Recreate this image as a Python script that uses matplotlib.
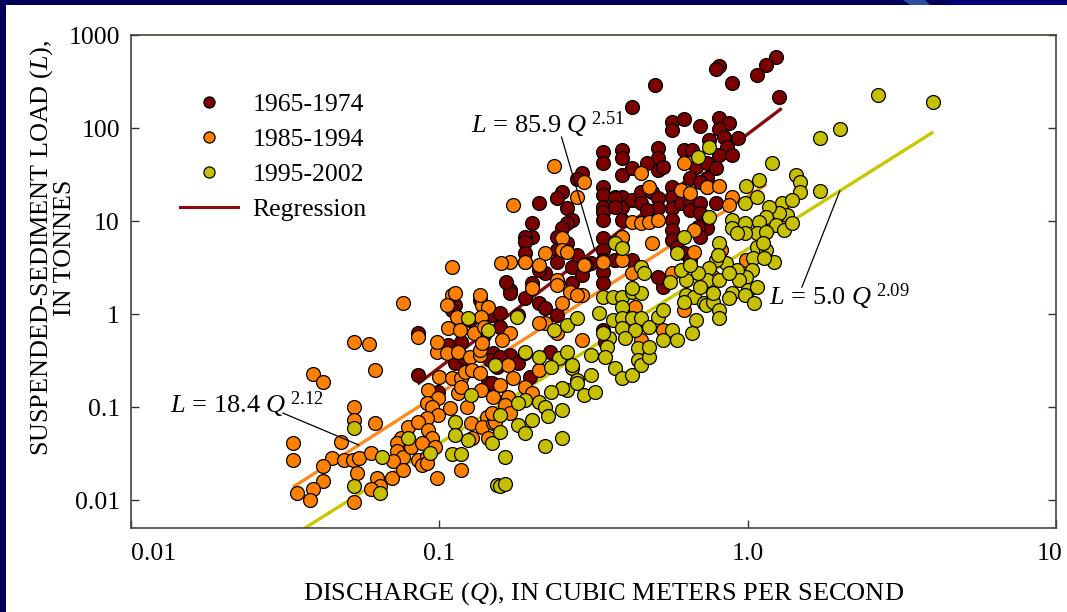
import matplotlib.pyplot as plt
import matplotlib.transforms as mtransforms
import numpy as np
from matplotlib.lines import Line2D
from matplotlib.patches import Polygon, Rectangle
from matplotlib.ticker import FixedLocator, NullLocator

plt.rcParams['font.family'] = ['Liberation Serif', 'DejaVu Serif']
plt.rcParams['mathtext.fontset'] = 'custom'
plt.rcParams['mathtext.rm'] = 'Liberation Serif'
plt.rcParams['mathtext.it'] = 'Liberation Serif:italic'

# discharge Q (m3/s) and suspended-sediment load L (tonnes), by period
q_6574 = [1.24, 1.15, 1.07, 0.89, 0.81, 0.79, 1.26, 0.50, 0.42, 0.57, 0.57, 0.62, 0.70, 0.81,
          0.87, 0.81, 0.84, 0.93, 0.75, 0.86, 0.81, 0.89, 0.39, 0.39, 0.39, 0.42, 0.51, 0.51,
          0.51, 0.53, 0.47, 0.62, 0.66, 0.68, 0.65, 0.74, 0.79, 0.74, 0.70, 0.74, 0.37, 0.39,
          0.39, 0.42, 0.45, 0.45, 0.49, 0.51, 0.51, 0.47, 0.57, 0.57, 0.57, 0.57, 0.57, 0.61,
          0.65, 0.65, 0.70, 0.70, 0.74, 0.74, 0.69, 0.79, 0.39, 0.39, 0.39, 0.37, 0.42, 0.57,
          0.59, 0.62, 0.70, 0.65, 0.53, 0.51, 0.34, 0.34, 0.29, 0.28, 0.34, 0.34, 0.34, 0.34,
          0.34, 0.37, 0.37, 0.25, 0.24, 0.21, 0.26, 0.27, 0.26, 0.25, 0.20, 0.20, 0.19, 0.19,
          0.24, 0.26, 0.34, 0.34, 0.34, 0.34, 0.34, 0.37, 0.31, 0.28, 0.27, 0.24, 0.24, 0.22,
          0.21, 0.19, 0.19, 0.17, 0.20, 0.19, 0.27, 0.29, 0.30, 0.112, 0.11, 0.118, 0.117,
          0.112, 0.121, 0.085, 0.085, 0.099, 0.148, 0.149, 0.146, 0.154, 0.144, 0.17, 0.21,
          0.22, 0.24, 0.157, 0.18, 0.157, 0.17, 0.157, 0.18, 0.197, 0.148, 0.34, 0.344, 0.228,
          0.126, 0.135, 0.107, 0.14, 0.165]
l_6574 = [580, 476, 372, 305, 464, 431, 215, 290, 168, 116, 95, 125, 105, 128,
          113, 97, 80, 78, 74, 62, 51, 51, 58, 48, 31, 37, 61, 48,
          35, 38, 42, 58, 58, 38, 29, 42, 37, 29, 26, 23, 18, 18,
          14, 16.8, 20.5, 15.6, 20.5, 17.7, 13.8, 13.1, 23, 18, 13.8, 10.2, 8.0, 15.6,
          16, 13.1, 15.6, 12.2, 10.2, 8.4, 8.6, 15.6, 10.2, 6.7, 5.25, 3.8, 3.8, 6.25,
          5.25, 4.53, 6.7, 3.8, 1.95, 2.5, 55, 42, 33, 28, 23, 19, 14, 12.5,
          10.2, 17.7, 14, 20.5, 17.7, 15.6, 13.8, 10.2, 9.5, 8.4, 9.5, 6.7, 6.7, 5.95,
          6.7, 5.8, 6.6, 4.88, 3.8, 2.83, 2.15, 3.8, 3.54, 4.31, 3.2, 4.88, 3.62, 2.76,
          2.97, 4.53, 3.62, 1.81, 2.15, 1.49, 2.15, 2.63, 3.36, 1.25, 1.10, 0.50, 0.36,
          0.30, 0.34, 0.62, 0.22, 0.145, 0.975, 0.38, 0.32, 0.27, 0.18, 1.68, 1.31,
          1.16, 0.975, 1.02, 0.975, 0.72, 0.36, 0.345, 0.30, 0.21, 0.18, 0.67, 0.50, 0.39,
          0.86, 1.41, 0.46, 0.59, 2.2]

q_8594 = [0.076, 0.053, 0.059, 0.062, 0.039, 0.042, 0.085, 0.053, 0.053, 0.062, 0.0335, 0.0335,
          0.048, 0.045, 0.042, 0.049, 0.0525, 0.055, 0.060, 0.075, 0.073, 0.079, 0.073, 0.076,
          0.071, 0.081, 0.085, 0.091, 0.088, 0.054, 0.063, 0.064, 0.060, 0.070, 0.076, 0.091,
          0.053, 0.042, 0.039, 0.038, 0.0345, 0.098, 0.118, 0.11, 0.106, 0.114, 0.107, 0.117,
          0.13, 0.098, 0.106, 0.115, 0.126, 0.135, 0.138, 0.144, 0.137, 0.14, 0.135, 0.138,
          0.10, 0.11, 0.092, 0.099, 0.091, 0.095, 0.099, 0.108, 0.091, 0.085, 0.092, 0.095,
          0.088, 0.097, 0.118, 0.121, 0.128, 0.135, 0.115, 0.123, 0.127, 0.143, 0.138, 0.149,
          0.144, 0.128, 0.118, 0.137, 0.149, 0.098,
          0.235, 0.173, 0.28, 0.295, 0.25, 0.22, 0.17, 0.159, 0.19, 0.21, 0.25, 0.26,
          0.295, 0.34, 0.11, 0.112, 0.135, 0.20, 0.24, 0.24, 0.265, 0.29,
          0.45, 0.48, 0.62, 0.61, 0.65, 0.74, 0.81, 0.89, 0.87, 0.42, 0.45, 0.48,
          0.51, 0.39, 0.49, 0.67, 0.67, 0.39, 0.42, 0.57, 0.77, 0.82, 0.99,
          0.25, 0.28, 0.22, 0.21, 0.24, 0.17, 0.16, 0.19, 0.167, 0.21, 0.173, 0.157,
          0.19, 0.20, 0.167, 0.163, 0.17, 0.151, 0.148, 0.29, 0.43, 0.42, 0.45, 0.53, 0.62]
l_8594 = [1.31, 0.50, 0.48, 0.25, 0.226, 0.186, 0.57, 0.10, 0.073, 0.067, 0.041, 0.027,
          0.042, 0.028, 0.023, 0.027, 0.027, 0.028, 0.032, 0.047, 0.041, 0.061, 0.034, 0.029,
          0.026, 0.037, 0.027, 0.029, 0.024, 0.0195, 0.0173, 0.014, 0.013, 0.0173, 0.021, 0.025,
          0.0095, 0.016, 0.013, 0.010, 0.012, 0.0173, 0.021, 1.6, 1.25, 0.93, 0.71, 0.67,
          0.62, 0.39, 0.38, 0.39, 0.345, 0.36, 1.25, 1.19, 0.93, 0.72, 0.41, 0.49,
          0.21, 0.205, 0.152, 0.125, 0.11, 0.10, 0.082, 0.098, 0.076, 0.069, 0.056, 0.047,
          0.041, 0.037, 0.205, 0.24, 0.25, 0.23, 0.141, 0.10, 0.067, 0.078, 0.061, 0.067,
          0.047, 0.046, 0.164, 0.152, 0.128, 0.50,
          39, 14.9, 18, 26, 6.6, 4.5, 3.6, 3.5, 3.6, 3.4, 4.9, 4.6,
          3.4, 3.6, 3.2, 1.68, 1.6, 1.9, 2.3, 2.05, 1.72, 1.6,
          33, 23, 42, 21.5, 20, 23, 24, 18, 14.9, 9.8, 9.5, 9.8,
          10.3, 6.7, 5.8, 8.0, 4.6, 3.8, 2.76, 2.76, 2.5, 4.9, 3.8,
          1.31, 1.6, 0.80, 0.80, 0.62, 0.62, 0.525, 0.38, 0.28, 0.25, 0.205, 0.172,
          0.164, 0.141, 0.128, 0.105, 0.086, 0.069, 0.086, 0.525, 1.19, 0.91, 0.525, 0.67, 1.10]

q_9502 = [0.124, 0.144, 0.151, 0.127, 0.112, 0.112, 0.124, 0.148, 0.079, 0.093, 0.11, 0.118,
          0.065, 0.053, 0.053, 0.064, 0.154,
          0.178, 0.236, 0.26, 0.28, 0.19, 0.21, 0.245, 0.23, 0.26, 0.27, 0.27, 0.28,
          0.26, 0.25, 0.23, 0.28, 0.31, 0.295, 0.32, 0.19, 0.18, 0.21, 0.22, 0.225,
          0.25, 0.20, 0.18, 0.19, 0.25, 0.22, 0.163, 0.157, 0.157, 0.157, 0.163,
          0.34, 0.365, 0.39, 0.42, 0.45, 0.39, 0.365, 0.39, 0.42, 0.45, 0.39, 0.43,
          0.40, 0.355, 0.34, 0.35, 0.33, 0.31, 0.345, 0.37, 0.39, 0.42, 0.44, 0.44,
          0.45, 0.48, 0.48, 0.48, 0.51, 0.53, 0.57, 0.53, 0.59, 0.63, 0.67, 0.72,
          0.62, 0.68, 0.66,
          1.71, 1.20, 1.43, 1.48, 1.48, 1.72, 0.99, 1.09, 0.98, 1.07, 1.29, 1.39,
          1.34, 1.26, 1.17, 1.15, 1.24, 1.31, 1.39, 0.89, 0.89, 0.98, 1.09, 1.07,
          0.98, 0.92, 1.15, 1.07, 1.15, 1.22, 1.12, 1.04, 1.13, 1.03, 0.99, 0.92,
          0.94, 0.85, 0.79, 0.81, 0.80, 0.75, 0.74, 0.69, 0.70, 0.63, 0.61, 0.65,
          0.62, 0.59, 0.75, 0.69, 0.75, 0.89, 1.0, 1.07, 0.81, 0.87, 0.45, 0.42,
          0.46, 0.56, 0.37, 0.39,
          2.64, 3.98, 2.0,
          0.73, 0.77, 0.81, 0.81, 0.87, 0.98, 1.05, 0.77]
l_9502 = [0.91, 0.67, 0.28, 0.135, 0.069, 0.05, 0.044, 0.041, 0.047, 0.032, 0.031, 0.031,
          0.029, 0.059, 0.014, 0.012, 0.0145,
          0.93, 0.67, 0.76, 0.91, 0.39, 0.345, 0.34, 0.27, 0.39, 0.26, 0.28, 0.195,
          0.152, 0.16, 0.145, 0.18, 0.22, 0.135, 0.145, 0.119, 0.11, 0.113, 0.10, 0.08,
          0.093, 0.073, 0.064, 0.052, 0.046, 0.038, 0.029, 0.054, 0.082, 0.0142, 0.0149,
          1.52, 1.52, 1.52, 1.72, 1.68, 1.19, 0.86, 0.91, 0.91, 0.91, 0.71, 0.67,
          0.55, 0.55, 0.62, 0.44, 1.02, 0.36, 0.345, 0.26, 0.205, 0.22, 0.43, 0.32,
          0.28, 0.345, 0.44, 0.72, 0.93, 1.10, 0.67, 0.525, 0.525, 1.6, 1.52, 1.31,
          1.35, 0.86, 0.62,
          78, 42, 31, 26, 20.5, 21, 24, 27.6, 15.6, 18, 15.6, 16.8,
          11.6, 12.2, 14, 11, 9.1, 8.0, 9.5, 10.3, 8.4, 9.5, 9.8, 7.4,
          7.4, 7.4, 7.6, 5.25, 4.9, 3.6, 5.8, 4.0, 4.0, 2.97, 2.5, 2.97,
          2.3, 3.5, 3.8, 5.8, 4.3, 3.1, 2.3, 2.76, 1.95, 2.3, 2.97, 3.4,
          6.7, 4.5, 11, 48.8, 62.5, 1.68, 1.81, 1.95, 2.3, 2.76, 3.2, 1.9,
          2.76, 2.2, 5.8, 5.1,
          226, 190, 97.5,
          1.25, 1.35, 1.10, 0.91, 1.49, 1.6, 1.31, 1.68]

periods = ['1965-1974', '1985-1994', '1995-2002']
dot_colors = ['#7b0000', '#ff8000', '#c6c000']
fit_colors = ['#8b0a0a', '#ff8a1e', '#c8c800']

# regression L = a * Q^b for each period, and the span of Q it is drawn over
fit_coef = [85.9, 18.4, 5.0]
fit_exp = [2.51, 2.12, 2.09]
fit_qmin = [0.085, 0.0335, 0.033]
fit_qmax = [1.29, 1.15, 4.0]

# equation labels: anchor of the text, start of the leader, Q where the leader meets the fit
eq_text_q = [0.127, 0.0134, 1.17]
eq_text_l = [88, 0.086, 1.25]
lead_q0 = [0.249, 0.0311, 1.50]
lead_l0 = [80, 0.086, 1.95]
lead_q1 = [0.319, 0.0548, 1.99]

x_ticks = [0.01, 0.1, 1.0, 10]
x_ticklabels = ['0.01', '0.1', '1.0', '10']
y_ticks = [0.01, 0.1, 1, 10, 100, 1000]
y_ticklabels = ['0.01', '0.1', '1', '10', '100', '1000']

W, H = 1067, 612
fig = plt.figure(figsize=(W / 100, H / 100), dpi=100, facecolor='#00005c')

# slide background: white panel, header band with a light swoosh
fig.patches.append(Rectangle((950 / W, (H - 5) / H), 1, 5 / H, transform=fig.transFigure,
                             facecolor='#000078', edgecolor='none', zorder=-10))
fig.patches.append(Polygon([(903 / W, 1), (925 / W, 1), (930 / W, (H - 5) / H), (910 / W, (H - 5) / H)],
                           closed=True, transform=fig.transFigure,
                           facecolor='#2b4e9e', edgecolor='none', zorder=-10))
fig.patches.append(Rectangle((6 / W, 0), 1, (H - 5) / H, transform=fig.transFigure,
                             facecolor='white', edgecolor='none', zorder=-10))

ax = fig.add_axes([131 / W, 84 / H, 925 / W, 493 / H])
ax.set_facecolor('none')
ax.set_xscale('log')
ax.set_yscale('log')
ax.set_xlim(0.01, 10)
ax.set_ylim(10 ** -2.301, 1000)

for a, b, q0, q1, c in zip(fit_coef, fit_exp, fit_qmin, fit_qmax, fit_colors):
    qq = np.geomspace(q0, q1, 60)
    ax.plot(qq, a * qq ** b, color=c, lw=2.4, solid_capstyle='butt', zorder=2)

for q, l, c in zip([q_6574, q_8594, q_9502], [l_6574, l_8594, l_9502], dot_colors):
    ax.scatter(q, l, s=100, c=c, edgecolors='black', linewidths=0.9, zorder=3)

for i in range(3):
    a, b = fit_coef[i], fit_exp[i]
    ax.plot([lead_q0[i], lead_q1[i]], [lead_l0[i], a * lead_q1[i] ** b],
            color='black', lw=0.9, zorder=4)
    ax.text(eq_text_q[i], eq_text_l[i], r'$L$ = %.1f $Q^{\;%.2f}$' % (a, b),
            fontsize=19, ha='left', va='baseline', zorder=5)

ax.xaxis.set_major_locator(FixedLocator(x_ticks))
ax.yaxis.set_major_locator(FixedLocator(y_ticks))
ax.xaxis.set_minor_locator(NullLocator())
ax.yaxis.set_minor_locator(NullLocator())
ax.set_xticklabels(x_ticklabels)
ax.set_yticklabels(y_ticklabels)
ax.tick_params(axis='both', which='major', direction='in', length=6, width=1,
               labelsize=18.5, right=True, top=False, colors='#333328', labelcolor='black')
ax.tick_params(axis='x', pad=11)
ax.tick_params(axis='y', pad=8)
for sp in ax.spines.values():
    sp.set_color('#45453a')
    sp.set_linewidth(1.2)

xlabels = ax.get_xticklabels()
xlabels[0].set_ha('left')
xlabels[-1].set_transform(xlabels[-1].get_transform() +
                          mtransforms.ScaledTranslation(-5 / 72, 0, fig.dpi_scale_trans))

handles = [Line2D([], [], ls='none', marker='o', markersize=8, markerfacecolor=c,
                  markeredgecolor='black', markeredgewidth=0.9) for c in dot_colors]
handles.append(Line2D([], [], color=fit_colors[0], lw=2.2))
ax.legend(handles, periods + ['Regression'], loc='upper left', bbox_to_anchor=(0.053, 0.882),
          frameon=False, fontsize=18.5, handlelength=2.27, handletextpad=0.55,
          labelspacing=0.47, borderpad=0, borderaxespad=0)

fig.text(604 / W, 1 - 594 / H, 'DISCHARGE ($Q$), IN CUBIC METERS PER SECOND',
         fontsize=19, ha='center', va='center')
fig.text(52 / W, 1 - 248 / H, 'SUSPENDED-SEDIMENT LOAD ($L$),\nIN TONNES',
         fontsize=18.8, rotation=90, ha='center', va='center', multialignment='center',
         linespacing=0.95)

fig.savefig('out.png', dpi=100)
